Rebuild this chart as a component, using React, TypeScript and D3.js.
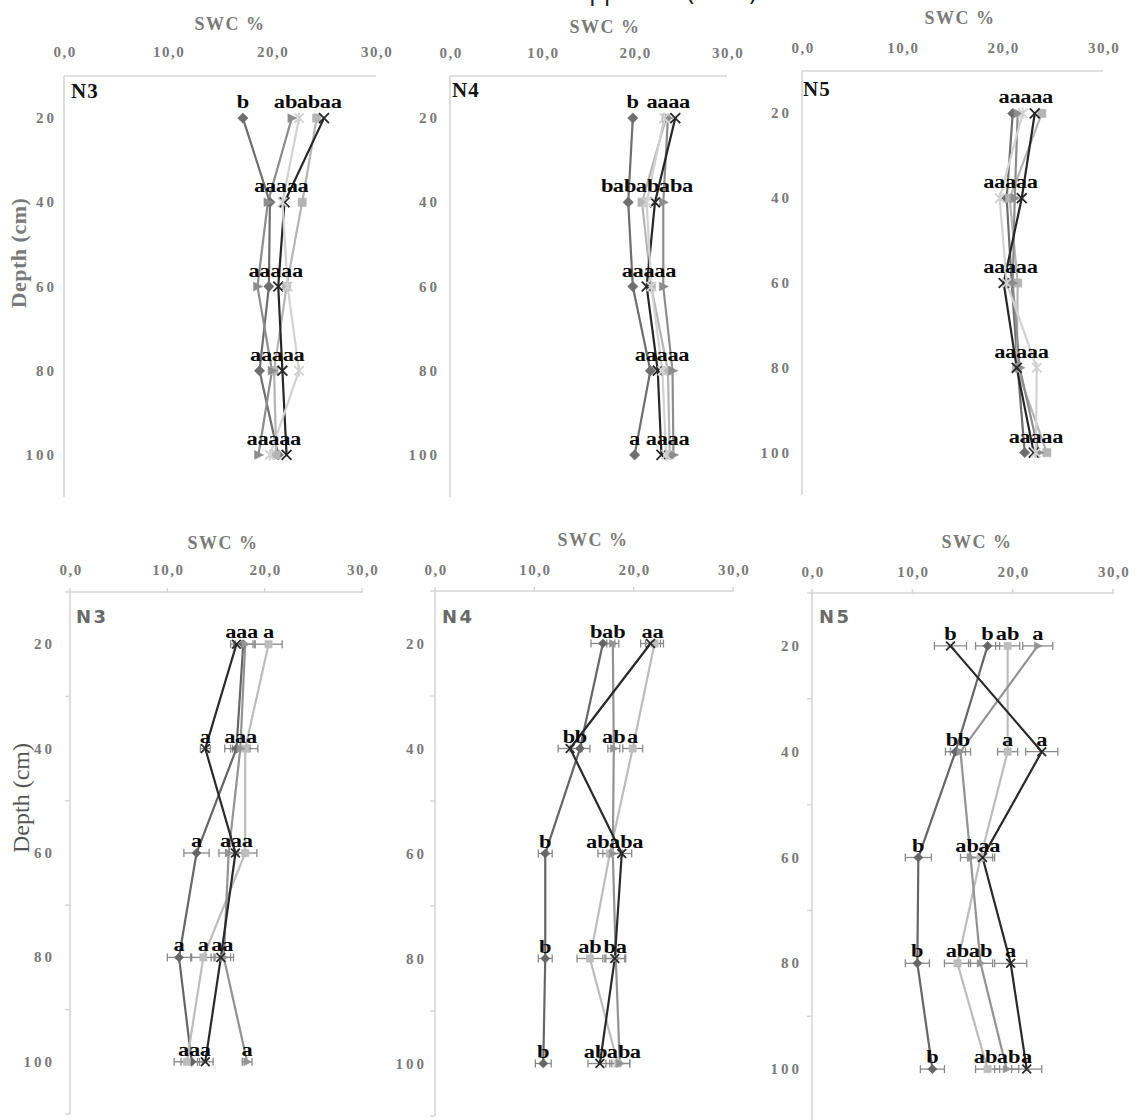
import React from "react";
import * as d3 from "d3";

// ---------- DATA ----------
const depths = [20, 40, 60, 80, 100];
const xTicks = [0, 10, 20, 30];
const xTickLabels = ["0,0", "10,0", "20,0", "30,0"];
const depthTickLabels = ["20", "40", "60", "80", "100"];
const topSeries = ["diamond", "square", "triangle", "cross", "star"];
const bottomSeries = ["diamond", "square", "triangle", "cross"];
const topPanelNames = ["N3", "N4", "N5"];
const bottomPanelNames = ["N3", "N4", "N5"];

// top row: rows = series (diamond, square, triangle, cross, star), cols = depths
const topN3Values = [
  [17.2, 19.8, 19.7, 18.8, 20.6],
  [24.3, 22.9, 21.4, 20.2, 20.4],
  [21.9, 19.6, 18.6, 20.0, 18.7],
  [25.0, 21.2, 20.6, 21.0, 21.4],
  [22.6, 21.0, 21.5, 22.6, 19.8],
];
const topN3Letters = [
  ["b", "a", "a", "a", "a"],
  ["a", "a", "a", "a", "a"],
  ["ab", "a", "a", "a", "a"],
  ["a", "a", "a", "a", "a"],
  ["ab", "a", "a", "a", "a"],
];
const topN4Values = [
  [19.8, 19.3, 19.8, 21.7, 20.0],
  [23.4, 20.8, 21.8, 23.6, 23.8],
  [23.6, 23.1, 23.1, 24.1, 24.2],
  [24.4, 22.2, 21.3, 22.5, 22.9],
  [23.2, 21.3, 21.8, 23.0, 23.4],
];
const topN4Letters = [
  ["b", "b", "a", "a", "a"],
  ["a", "ab", "a", "a", "a"],
  ["a", "a", "a", "a", "a"],
  ["a", "ab", "a", "a", "a"],
  ["a", "ab", "a", "a", "a"],
];
const topN5Values = [
  [21.0, 20.4, 20.9, 21.5, 22.2],
  [23.9, 20.7, 21.5, 21.4, 24.4],
  [21.5, 21.2, 21.0, 21.7, 23.6],
  [23.2, 21.9, 20.1, 21.4, 23.1],
  [22.0, 19.7, 20.4, 23.4, 23.3],
];
const topN5Letters = [
  ["a", "a", "a", "a", "a"],
  ["a", "a", "a", "a", "a"],
  ["a", "a", "a", "a", "a"],
  ["a", "a", "a", "a", "a"],
  ["a", "a", "a", "a", "a"],
];

// bottom row: rows = series (diamond, square, triangle, cross)
const bottomN3Values = [
  [17.8, 17.1, 13.0, 11.2, 12.5],
  [20.4, 18.0, 18.0, 13.7, 12.0],
  [18.0, 17.5, 16.3, 15.8, 18.2],
  [17.1, 13.9, 17.0, 15.5, 13.9],
];
const bottomN3Errors = [
  [1.0, 1.2, 1.3, 1.2, 1.1],
  [1.4, 1.3, 1.2, 1.2, 1.3],
  [1.0, 1.0, 1.0, 1.0, 0.5],
  [0.6, 0.5, 1.0, 1.0, 0.8],
];
const bottomN3Letters = [
  ["a", "a", "a", "a", "a"],
  ["a", "a", "a", "a", "a"],
  ["a", "a", "a", "a", "a"],
  ["a", "a", "a", "a", "a"],
];
const bottomN4Values = [
  [16.9, 14.6, 11.1, 11.1, 10.9],
  [22.1, 19.9, 17.6, 15.6, 18.4],
  [17.9, 18.0, 17.9, 18.2, 18.6],
  [21.7, 13.6, 18.8, 18.1, 16.6],
];
const bottomN4Errors = [
  [1.2, 1.0, 0.7, 0.7, 0.8],
  [0.9, 1.0, 1.2, 1.3, 1.2],
  [0.6, 0.6, 1.0, 1.0, 1.0],
  [1.0, 1.2, 1.0, 1.0, 1.2],
];
const bottomN4Letters = [
  ["b", "b", "b", "b", "b"],
  ["a", "a", "ab", "ab", "ab"],
  ["ab", "ab", "ab", "a", "a"],
  ["a", "b", "a", "b", "ab"],
];
const bottomN5Values = [
  [17.5, 14.3, 10.6, 10.5, 12.0],
  [19.5, 19.5, 16.8, 14.5, 17.5],
  [22.5, 14.8, 15.8, 16.8, 19.4],
  [13.8, 22.9, 17.0, 19.8, 21.4],
];
const bottomN5Errors = [
  [1.2, 1.0, 1.3, 1.2, 1.2],
  [1.2, 1.0, 1.2, 1.3, 1.2],
  [1.5, 1.0, 1.0, 1.2, 1.2],
  [1.6, 1.6, 1.2, 1.6, 1.5],
];
const bottomN5Letters = [
  ["b", "b", "b", "b", "b"],
  ["ab", "a", "a", "ab", "ab"],
  ["a", "b", "ab", "ab", "ab"],
  ["b", "a", "a", "a", "a"],
];

// ---------- LAYOUT / STYLE ----------
const SERIF = "'Liberation Serif', 'Times New Roman', serif";
const SANS = "'DejaVu Sans', Verdana, sans-serif";
const AXIS_GRAY = "#7a7a7a";
const LINE_GRAY = "#d6d6d6";
const LETTER_STRETCH = 1.18;

const topColors: Record<string, string> = {
  diamond: "#6e6e6e",
  square: "#b5b5b5",
  triangle: "#8d8d8d",
  cross: "#272727",
  star: "#d2d2d2",
};
const bottomColors: Record<string, string> = {
  diamond: "#666666",
  square: "#bdbdbd",
  triangle: "#939393",
  cross: "#2a2a2a",
};

type Layout = {
  x0: number; x1: number; yTop: number; yBot: number;
  titleX: number; titleY: number; tickY: number; depthRight: number;
  nameX: number; nameY: number;
};

const topLayouts: Layout[] = [
  { x0: 64, x1: 376, yTop: 76, yBot: 497, titleX: 230, titleY: 30, tickY: 57, depthRight: 57, nameX: 71, nameY: 98 },
  { x0: 450, x1: 727, yTop: 76, yBot: 497, titleX: 605, titleY: 33, tickY: 58, depthRight: 440, nameX: 452, nameY: 97 },
  { x0: 802, x1: 1103, yTop: 71, yBot: 495, titleX: 960, titleY: 24, tickY: 53, depthRight: 792, nameX: 803, nameY: 96 },
];
const bottomLayouts: Layout[] = [
  { x0: 70, x1: 362, yTop: 592, yBot: 1114, titleX: 223, titleY: 549, tickY: 575, depthRight: 55, nameX: 76, nameY: 623 },
  { x0: 435, x1: 733, yTop: 591, yBot: 1116, titleX: 593, titleY: 546, tickY: 575, depthRight: 427, nameX: 442, nameY: 623 },
  { x0: 812, x1: 1113, yTop: 593, yBot: 1122, titleX: 977, titleY: 548, tickY: 577, depthRight: 802, nameX: 819, nameY: 623 },
];

function markerPath(kind: string, s: number): string {
  if (kind === "diamond") return `M0,${-s}L${s},0L0,${s}L${-s},0Z`;
  if (kind === "square") { const h = s * 0.8; return `M${-h},${-h}H${h}V${h}H${-h}Z`; }
  if (kind === "triangle") return `M${-s * 0.75},${-s * 0.85}L${s},0L${-s * 0.75},${s * 0.85}Z`;
  if (kind === "cross") { const h = s * 0.95; return `M${-h},${-h}L${h},${h}M${-h},${h}L${h},${-h}`; }
  // star (asterisk)
  const h = s * 0.9;
  return `M${-h},${-h}L${h},${h}M${-h},${h}L${h},${-h}M0,${-s * 1.1}L0,${s * 1.1}`;
}

function letterWidth(t: string, fs: number) {
  let w = 0;
  for (const ch of t) w += (ch === "a" ? 0.5 : 0.556) * fs;
  return w * LETTER_STRETCH * 0.97;
}

function dodge(items: { c: number; w: number; text: string }[]) {
  const sorted = [...items].sort((a, b) => a.c - b.c);
  let clusters = sorted.map((it) => ({ items: [it], width: it.w, center: it.c }));
  let merged = true;
  while (merged) {
    merged = false;
    for (let i = 1; i < clusters.length; i++) {
      const p = clusters[i - 1], q = clusters[i];
      if (p.center + p.width / 2 > q.center - q.width / 2) {
        const all = [...p.items, ...q.items];
        const width = d3.sum(all, (d) => d.w);
        const center = d3.mean(all, (d) => d.c) as number;
        clusters.splice(i - 1, 2, { items: all, width, center });
        merged = true;
        break;
      }
    }
  }
  const out: { x: number; text: string }[] = [];
  clusters.forEach((cl) => {
    let left = cl.center - cl.width / 2;
    cl.items.forEach((it) => {
      out.push({ x: left + it.w / 2, text: it.text });
      left += it.w;
    });
  });
  return out;
}

function Panel(props: {
  lay: Layout; values: number[][]; letters: string[][]; errors?: number[][];
  series: string[]; colors: Record<string, string>; name: string; bottom: boolean;
}) {
  const { lay, values, letters, errors, series, colors, name, bottom } = props;
  const x = d3.scaleLinear().domain([0, 30]).range([lay.x0, lay.x1]);
  const y = d3.scaleLinear().domain([10, 110]).range([lay.yTop, lay.yBot]);
  const line = d3.line<number>().x((v) => x(v)).y((_, i) => y(depths[i]));
  const ms = bottom ? 4.6 : 5.2;
  const lfs = 19;
  const labelOffset = bottom ? 6 : 10;

  return (
    <g>
      {/* axes */}
      <line x1={lay.x0} x2={lay.x1} y1={lay.yTop} y2={lay.yTop} stroke={LINE_GRAY} strokeWidth={1.6} />
      <line x1={lay.x0} x2={lay.x0} y1={lay.yTop} y2={lay.yBot} stroke={LINE_GRAY} strokeWidth={1.6} />
      {bottom && xTicks.map((t) => (
        <line key={"xt" + t} x1={x(t)} x2={x(t)} y1={lay.yTop - 4} y2={lay.yTop + 1} stroke={LINE_GRAY} strokeWidth={1.5} />
      ))}
      {bottom && [10, 30, 50, 70, 90, 110].map((t) => (
        <line key={"yt" + t} x1={lay.x0 - 5} x2={lay.x0} y1={y(t)} y2={y(t)} stroke={LINE_GRAY} strokeWidth={1.5} />
      ))}
      <text x={lay.titleX} y={lay.titleY} textAnchor="middle" fontFamily={SERIF} fontWeight="bold" fontSize={18} letterSpacing={1.5} fill={AXIS_GRAY}>SWC %</text>
      {xTicks.map((t, i) => (
        <text key={"xl" + t} x={x(t) + 1} y={lay.tickY} textAnchor="middle" fontFamily={SERIF} fontWeight="bold" fontSize={15} letterSpacing={1.5} fill={AXIS_GRAY}>{xTickLabels[i]}</text>
      ))}
      {depths.map((d, i) => (
        <text key={"yl" + d} x={lay.depthRight} y={y(d) + 5} textAnchor="end" fontFamily={SERIF} fontWeight="bold" fontSize={15} letterSpacing={3} fill={AXIS_GRAY}>{depthTickLabels[i]}</text>
      ))}
      {bottom ? (
        <text x={lay.nameX} y={lay.nameY} fontFamily={SANS} fontWeight="bold" fontSize={18} letterSpacing={2.5} fill="#6a6a6a">{name}</text>
      ) : (
        <text x={lay.nameX} y={lay.nameY} fontFamily={SERIF} fontWeight="bold" fontSize={21} letterSpacing={1} fill="#111">{name}</text>
      )}

      {/* error bars */}
      {errors && series.map((s, si) => (
        <g key={"e" + s} stroke="#8a8a8a" strokeWidth={1.3}>
          {values[si].map((v, di) => {
            const yy = y(depths[di]);
            const e = errors[si][di];
            return (
              <g key={di}>
                <line x1={x(v - e)} x2={x(v + e)} y1={yy} y2={yy} />
                <line x1={x(v - e)} x2={x(v - e)} y1={yy - 4} y2={yy + 4} />
                <line x1={x(v + e)} x2={x(v + e)} y1={yy - 4} y2={yy + 4} />
              </g>
            );
          })}
        </g>
      ))}

      {/* lines */}
      {series.map((s, si) => (
        <path key={"l" + s} d={line(values[si]) || ""} fill="none" stroke={colors[s]} strokeWidth={2.2} />
      ))}
      {/* markers */}
      {series.map((s, si) => (
        <g key={"m" + s}>
          {values[si].map((v, di) => {
            const stroked = s === "cross" || s === "star";
            return (
              <path key={di} transform={`translate(${x(v)},${y(depths[di])})`} d={markerPath(s, ms)}
                fill={stroked ? "none" : colors[s]} stroke={colors[s]} strokeWidth={stroked ? 1.8 : 0.5} />
            );
          })}
        </g>
      ))}
      {/* significance letters */}
      {depths.map((d, di) => {
        const items = series.map((s, si) => ({ c: x(values[si][di]), w: letterWidth(letters[si][di], lfs), text: letters[si][di] }));
        const placed = dodge(items);
        return (
          <g key={"lab" + d}>
            {placed.map((p, k) => (
              <text key={k} transform={`translate(${p.x},${y(d) - labelOffset}) scale(${LETTER_STRETCH},1)`} textAnchor="middle" fontFamily={SERIF} fontWeight="bold" fontSize={lfs} fill="#0a0a0a">{p.text}</text>
            ))}
          </g>
        );
      })}
    </g>
  );
}

export default function App() {
  const topVals = [topN3Values, topN4Values, topN5Values];
  const topLets = [topN3Letters, topN4Letters, topN5Letters];
  const botVals = [bottomN3Values, bottomN4Values, bottomN5Values];
  const botLets = [bottomN3Letters, bottomN4Letters, bottomN5Letters];
  const botErrs = [bottomN3Errors, bottomN4Errors, bottomN5Errors];
  return (
    <svg width={1141} height={1120} viewBox="0 0 1141 1120" style={{ position: "absolute", left: 0, top: 0, background: "#fff" }}>
      <rect width={1141} height={1120} fill="#fff" />
      <text x={574} y={-0.5} fontFamily="'Noto Sans', sans-serif" fontSize={24} fill="#222">Appendix (2014)</text>
      {topLayouts.map((lay, i) => (
        <Panel key={"t" + i} lay={lay} values={topVals[i]} letters={topLets[i]} series={topSeries} colors={topColors} name={topPanelNames[i]} bottom={false} />
      ))}
      {bottomLayouts.map((lay, i) => (
        <Panel key={"b" + i} lay={lay} values={botVals[i]} letters={botLets[i]} errors={botErrs[i]} series={bottomSeries} colors={bottomColors} name={bottomPanelNames[i]} bottom={true} />
      ))}
      <text transform="translate(26,253) rotate(-90)" textAnchor="middle" fontFamily={SERIF} fontWeight="bold" fontSize={22} letterSpacing={0.5} fill={AXIS_GRAY}>Depth (cm)</text>
      <text transform="translate(29,798) rotate(-90)" textAnchor="middle" fontFamily={SERIF} fontSize={24} fill="#555">Depth (cm)</text>
    </svg>
  );
}
